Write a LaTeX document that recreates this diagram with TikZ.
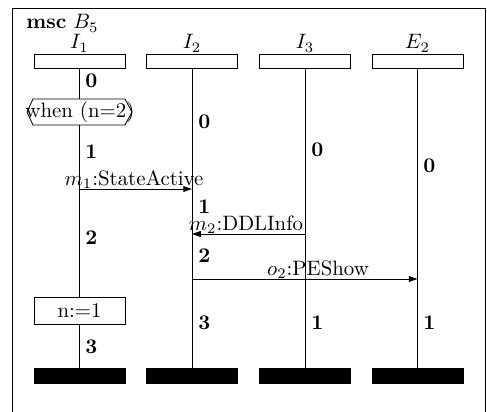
\documentclass[tikz,border=0pt]{standalone}
\usetikzlibrary{arrows.meta}
\begin{document}
\begin{tikzpicture}[x=0.48pt,y=-0.48pt,line width=0.4pt,
  headbox/.style={draw,minimum width=43.7pt,minimum height=6.5pt,inner sep=0,anchor=north},
  endbar/.style={draw,fill=black,minimum width=43.7pt,minimum height=7.2pt,inner sep=0,anchor=north},
  actbox/.style={draw,minimum width=43.7pt,minimum height=13pt,inner sep=0,anchor=north},
  inst/.style={anchor=base,inner sep=0},
  num/.style={anchor=west,inner sep=0,font=\bfseries},
  msgl/.style={anchor=base,inner sep=0},
  msg/.style={-{Triangle[length=4.2pt,width=2.8pt]}}]
\clip (0,0) rectangle (487,411);
\useasboundingbox (0,0) rectangle (487,411);
\draw (12,8) rectangle (485,440);
\node[anchor=base west,inner sep=0] (title) at (26,29) {\textbf{msc} $B_5$};
% heads
\node[headbox] (h1) at (79.5,54) {};
\node[headbox] (h2) at (192,54) {};
\node[headbox] (h3) at (305,54) {};
\node[headbox] (h4) at (417.5,54) {};
\node[inst] (l1) at (79.5,49) {$I_1$};
\node[inst] (l2) at (192,49) {$I_2$};
\node[inst] (l3) at (305,49) {$I_3$};
\node[inst] (l4) at (417.5,49) {$E_2$};
% end bars
\node[endbar] (e1) at (79.5,368) {};
\node[endbar] (e2) at (192,368) {};
\node[endbar] (e3) at (305,368) {};
\node[endbar] (e4) at (417.5,368) {};
% condition and action on I1
\draw (27,112) -- (33,99) -- (125,99) -- (132,112) -- (125,125) -- (33,125) -- cycle;
\coordinate (wt) at (79.5,99);
\coordinate (wb) at (79.5,125);
\node[inner sep=0] (when) at (80,112) {when (n=2)};
\node[actbox] (act) at (79.5,297) {n:=1};
% lifelines
\draw (h1.south) -- (wt);
\draw (wb) -- (act.north);
\draw (act.south) -- (e1.north);
\draw (h2.south) -- (e2.north);
\draw (h3.south) -- (e3.north);
\draw (h4.south) -- (e4.north);
% numbers
\node[num] (a0) at (85,81) {0};
\node[num] (a1) at (85,152) {1};
\node[num] (a2) at (85,238) {2};
\node[num] (a3) at (85,347) {3};
\node[num] (b0) at (198,122) {0};
\node[num] (b1) at (198,207) {1};
\node[num] (b2) at (198,256) {2};
\node[num] (b3) at (198,323) {3};
\node[num] (c0) at (311,150) {0};
\node[num] (c1) at (311,323) {1};
\node[num] (d0) at (423,166) {0};
\node[num] (d1) at (423,323) {1};
% messages
\coordinate (m1s) at (79.5,189);
\coordinate (m1e) at (192,189);
\draw[msg] (m1s) -- (m1e);
\node[msgl] (m1l) at (134,185) {$m_1$:StateActive};
\coordinate (m2s) at (305,234);
\coordinate (m2e) at (192,234);
\draw[msg] (m2s) -- (m2e);
\node[msgl] (m2l) at (246,230) {$m_2$:DDLInfo};
\coordinate (o2s) at (192,279);
\coordinate (o2e) at (417.5,279);
\draw[msg] (o2s) -- (o2e);
\node[msgl] (o2l) at (318,275) {$o_2$:PEShow};
\end{tikzpicture}
\end{document}
